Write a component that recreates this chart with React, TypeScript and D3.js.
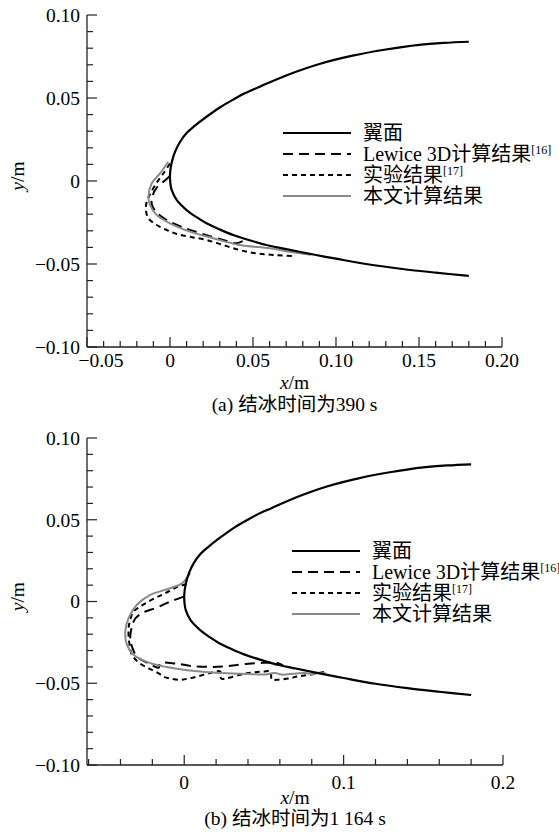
import React from "react";
import * as d3 from "d3";

type P = [number, number];

// Airfoil contour (upper TE -> LE -> lower TE), metres
const airfoil: P[] = [
  [0.18, 0.0839], [0.165, 0.0832], [0.15, 0.082], [0.13, 0.0792], [0.11, 0.0755],
  [0.09, 0.0705], [0.07, 0.0636], [0.055, 0.0572], [0.045, 0.0528], [0.038, 0.049],
  [0.03, 0.0443], [0.022, 0.0387], [0.015, 0.0333], [0.01, 0.0289], [0.006, 0.0235],
  [0.003, 0.0175], [0.001, 0.011], [0.0, 0.004], [0.0003, -0.002], [0.001, -0.0054],
  [0.004, -0.0114], [0.01, -0.0175], [0.016, -0.0218], [0.022, -0.0255], [0.03, -0.0292],
  [0.038, -0.0325], [0.048, -0.0357], [0.06, -0.039], [0.07, -0.041], [0.088, -0.0446],
  [0.1, -0.0468], [0.12, -0.0503], [0.14, -0.053], [0.16, -0.0552], [0.18, -0.0572],
];

// (a) 390 s
const lewice390: P[] = [
  [0.0, 0.003], [-0.004, -0.0005], [-0.008, -0.004], [-0.0105, -0.009], [-0.011, -0.014],
  [-0.008, -0.019], [-0.002, -0.0235], [0.008, -0.028], [0.02, -0.032], [0.032, -0.0355],
  [0.04, -0.0375], [0.046, -0.035],
];
const exp390: P[] = [
  [0.0, 0.0105], [-0.004, 0.0045], [-0.008, -0.001], [-0.0115, -0.007], [-0.014, -0.0125],
  [-0.0145, -0.0175], [-0.013, -0.0225], [-0.008, -0.0265], [-0.002, -0.0295], [0.004, -0.0319],
  [0.012, -0.0336], [0.022, -0.0355], [0.032, -0.0386], [0.042, -0.0416], [0.052, -0.0436],
  [0.063, -0.0446], [0.075, -0.0452],
];
const present390: P[] = [
  [-0.001, 0.0116], [-0.006, 0.0046], [-0.011, -0.0014], [-0.013, -0.0095], [-0.012, -0.0145],
  [-0.008, -0.0205], [0.0, -0.0255], [0.012, -0.0305], [0.026, -0.0345], [0.042, -0.0386],
  [0.06, -0.0405], [0.072, -0.0426], [0.085, -0.0445],
];

// (b) 1164 s
const lewice1164: P[] = [
  [-0.0004, 0.003], [-0.006, 0.001], [-0.011, -0.001], [-0.018, -0.004], [-0.0257, -0.0067],
  [-0.0307, -0.0104], [-0.0328, -0.0153], [-0.0339, -0.0224], [-0.0328, -0.0275],
  [-0.0297, -0.0336], [-0.022, -0.038], [-0.016, -0.0405], [-0.015, -0.0378], [-0.005, -0.038],
  [0.005, -0.0395], [0.018, -0.04], [0.028, -0.0395], [0.04, -0.038], [0.05, -0.0375],
  [0.058, -0.0375], [0.062, -0.039],
];
const exp1164: P[] = [
  [0.0015, 0.0105], [-0.0036, 0.0092], [-0.0077, 0.0072], [-0.0119, 0.0051], [-0.0161, 0.0031],
  [-0.0224, 0.0], [-0.0276, -0.0031], [-0.0318, -0.0061], [-0.0339, -0.0112], [-0.0349, -0.0163],
  [-0.0348, -0.0226], [-0.0339, -0.0286], [-0.0328, -0.0326], [-0.029, -0.037], [-0.022, -0.041],
  [-0.016, -0.044], [-0.013, -0.0459], [-0.0088, -0.0471], [-0.0025, -0.0479], [0.0017, -0.0473],
  [0.008, -0.0459], [0.0163, -0.0437], [0.0226, -0.0428], [0.0232, -0.0471], [0.0268, -0.0469],
  [0.0351, -0.0448], [0.0393, -0.0439], [0.0497, -0.0428], [0.054, -0.0428], [0.055, -0.0479],
  [0.0581, -0.0479], [0.0665, -0.0469], [0.0707, -0.0459], [0.079, -0.0448], [0.0895, -0.0428],
];
const present1164: P[] = [
  [0.0038, 0.0173], [-0.0014, 0.0112], [-0.0088, 0.0081], [-0.0213, 0.0041], [-0.0297, -0.002],
  [-0.0349, -0.0102], [-0.037, -0.0183], [-0.0359, -0.0265], [-0.0318, -0.0326],
  [-0.0213, -0.0377], [-0.0067, -0.0408], [0.01, -0.0428], [0.027, -0.0439], [0.041, -0.0443],
  [0.05, -0.0447], [0.054, -0.0441], [0.057, -0.0437], [0.061, -0.0447], [0.07, -0.044],
  [0.076, -0.0437], [0.08, -0.0445], [0.084, -0.0438], [0.089, -0.044],
];

const yTicksMajor = [0.1, 0.05, 0, -0.05, -0.1];
const yTickLabels = ["0.10", "0.05", "0", "\u22120.05", "\u22120.10"];
const xTicksA = [-0.05, 0, 0.05, 0.1, 0.15, 0.2];
const xTickLabelsA = ["\u22120.05", "0", "0.05", "0.10", "0.15", "0.20"];
const xTicksB = [0, 0.1, 0.2];
const xTickLabelsB = ["0", "0.1", "0.2"];
const legendNames = ["翼面", "Lewice 3D计算结果", "实验结果", "本文计算结果"];
const legendRefs = ["", "[16]", "[17]", ""];
const captionA = "(a) 结冰时间为390 s";
const captionB = "(b) 结冰时间为1 164 s";

const FONT = '"Liberation Serif", "Times New Roman", "DejaVu Serif", "Noto Sans CJK SC", serif';
const styles = [
  { stroke: "#000", width: 2.2, dash: "" },
  { stroke: "#000", width: 2, dash: "10,6" },
  { stroke: "#000", width: 2, dash: "5,4" },
  { stroke: "#8a8a8a", width: 2, dash: "" },
];

interface PanelProps {
  xDomain: [number, number];
  xRange: [number, number];
  yRange: [number, number];
  xTicks: number[];
  xTickLabels: string[];
  xMinorStep: number;
  series: P[][];
  legendX: number;
  legendY: number;
  caption: string;
  labelY: number;
  captionY: number;
  tickLabelY: number;
  firstLabelShift: number;
}

const TS = 19.5;

function Panel(p: PanelProps) {
  const x = d3.scaleLinear().domain(p.xDomain).range(p.xRange);
  const y = d3.scaleLinear().domain([-0.1, 0.1]).range(p.yRange);
  const line = d3
    .line<P>()
    .x((d) => x(d[0]))
    .y((d) => y(d[1]))
    .curve(d3.curveCatmullRom.alpha(0.5));
  const x0 = p.xRange[0];
  const yb = p.yRange[0];
  const yMinor = d3.range(-0.1, 0.1001, 0.01);
  const xMinor = d3
    .range(p.xDomain[0] < -0.055 ? -0.06 : -0.05, 0.2001, p.xMinorStep)
    .filter((v) => v >= p.xDomain[0] - 1e-9);
  const allSeries = [airfoil, ...p.series];
  return (
    <g>
      {[1, 2, 3, 0].map((i) => (
        <path
          key={i}
          d={line(allSeries[i]) || ""}
          fill="none"
          stroke={styles[i].stroke}
          strokeWidth={styles[i].width}
          strokeDasharray={styles[i].dash || undefined}
        />
      ))}
      <line x1={x0} x2={x0} y1={p.yRange[1]} y2={yb} stroke="#222" strokeWidth={1.3} />
      <line x1={x0} x2={p.xRange[1]} y1={yb} y2={yb} stroke="#222" strokeWidth={1.3} />
      {yMinor.map((v, i) => {
        const major = yTicksMajor.some((m) => Math.abs(m - v) < 1e-6);
        return (
          <line key={"ym" + i} x1={x0} x2={x0 + (major ? 10 : 6)} y1={y(v)} y2={y(v)} stroke="#222" strokeWidth={1.2} />
        );
      })}
      {xMinor.map((v, i) => {
        const major = p.xTicks.some((m) => Math.abs(m - v) < 1e-6);
        return (
          <line key={"xm" + i} x1={x(v)} x2={x(v)} y1={yb} y2={yb - (major ? 10 : 6)} stroke="#222" strokeWidth={1.2} />
        );
      })}
      {yTicksMajor.map((v, i) => (
        <text key={"yl" + i} x={x0 - 7} y={y(v)} dy="0.35em" textAnchor="end" fontSize={TS} style={{ fontFamily: FONT }}>
          {yTickLabels[i]}
        </text>
      ))}
      {p.xTicks.map((v, i) => (
        <text
          key={"xl" + i}
          x={x(v) + (i === 0 ? p.firstLabelShift : 0)}
          y={p.tickLabelY}
          textAnchor="middle"
          fontSize={TS}
          style={{ fontFamily: FONT }}
        >
          {p.xTickLabels[i]}
        </text>
      ))}
      <text
        x={(p.xRange[0] + p.xRange[1]) / 2}
        y={p.labelY}
        textAnchor="middle"
        fontSize={TS}
        style={{ fontFamily: FONT }}
      >
        <tspan fontStyle="italic">x</tspan>/m
      </text>
      <text
        transform={`translate(24,${y(0.003)}) rotate(-90)`}
        textAnchor="middle"
        fontSize={TS}
        style={{ fontFamily: FONT }}
      >
        <tspan fontStyle="italic">y</tspan>/m
      </text>
      {legendNames.map((name, i) => {
        const ly = p.legendY + i * 21;
        return (
          <g key={"lg" + i}>
            <line
              x1={p.legendX}
              x2={p.legendX + 68}
              y1={ly}
              y2={ly}
              stroke={styles[i].stroke}
              strokeWidth={styles[i].width}
              strokeDasharray={styles[i].dash || undefined}
            />
            <text x={p.legendX + 80} y={ly} dy="0.36em" fontSize={20} style={{ fontFamily: FONT }}>
              {name}
              {legendRefs[i] ? (
                <tspan fontSize={12} dy="-0.6em">
                  {legendRefs[i]}
                </tspan>
              ) : null}
            </text>
          </g>
        );
      })}
      <text
        x={(p.xRange[0] + p.xRange[1]) / 2}
        y={p.captionY}
        textAnchor="middle"
        fontSize={TS}
        style={{ fontFamily: FONT }}
      >
        {p.caption}
      </text>
    </g>
  );
}

export default function App() {
  return (
    <svg
      width={559}
      height={832}
      viewBox="0 0 559 832"
      style={{ position: "absolute", left: 0, top: 0, background: "#fff" }}
    >
      <rect width={559} height={832} fill="#fff" />
      <Panel
        xDomain={[-0.05, 0.2]}
        xRange={[87, 502]}
        yRange={[347, 15]}
        xTicks={xTicksA}
        xTickLabels={xTickLabelsA}
        xMinorStep={0.01}
        series={[lewice390, exp390, present390]}
        legendX={283}
        legendY={133}
        caption={captionA}
        tickLabelY={367}
        labelY={389}
        captionY={411}
        firstLabelShift={14}
      />
      <Panel
        xDomain={[-0.061, 0.2]}
        xRange={[87, 503]}
        yRange={[765, 438]}
        xTicks={xTicksB}
        xTickLabels={xTickLabelsB}
        xMinorStep={0.02}
        series={[lewice1164, exp1164, present1164]}
        legendX={292}
        legendY={551}
        caption={captionB}
        tickLabelY={789}
        labelY={804}
        captionY={825}
        firstLabelShift={0}
      />
    </svg>
  );
}
